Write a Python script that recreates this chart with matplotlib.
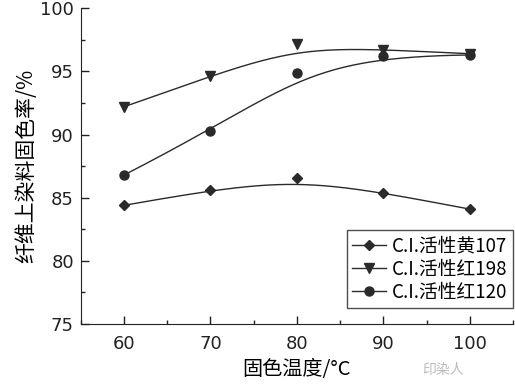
import numpy as np
import matplotlib
matplotlib.use('Agg')
import matplotlib.pyplot as plt
from matplotlib.ticker import MultipleLocator

plt.rcParams['font.family'] = ['DejaVu Sans', 'Noto Sans CJK SC']

## data
temps      = [60, 70, 80, 90, 100]
yellow107  = [84.4, 85.6, 86.6, 85.4, 84.1]
red198     = [92.2, 94.6, 97.2, 96.7, 96.4]
red120     = [86.8, 90.3, 94.9, 96.2, 96.3]
labels     = ['C.I.活性黄107', 'C.I.活性红198', 'C.I.活性红120']
markers    = ['D', 'v', 'o']


def bspline(x, y, n=200):
    ## clamped cubic B-spline through the end points, points used as control points
    P = np.column_stack([x, y]).astype(float)
    k = 3
    m = len(P)
    inner = np.linspace(0, 1, m - k + 1)[1:-1]
    t = np.concatenate([[0] * (k + 1), inner, [1] * (k + 1)])
    u = np.linspace(0, 1, n)
    u[-1] = 1 - 1e-9
    out = []
    for uu in u:
        N = np.array([1.0 if (t[i] <= uu < t[i + 1]) else 0.0 for i in range(len(t) - 1)])
        for d in range(1, k + 1):
            Nn = np.zeros(len(t) - 1 - d)
            for i in range(len(Nn)):
                a = 0.0
                if t[i + d] != t[i]:
                    a = (uu - t[i]) / (t[i + d] - t[i]) * N[i]
                b = 0.0
                if t[i + d + 1] != t[i + 1]:
                    b = (t[i + d + 1] - uu) / (t[i + d + 1] - t[i + 1]) * N[i + 1]
                Nn[i] = a + b
            N = Nn
        out.append(N @ P)
    out = np.array(out)
    return out[:, 0], out[:, 1]


fig = plt.figure(figsize=(5.15, 3.9), dpi=100)
ax = fig.add_axes([0.157, 0.169, 0.839, 0.81])

col = '#2a2a2a'
sizes = {'D': 5, 'v': 7, 'o': 6.5}
handles = []
for ys, mk, lab in zip([yellow107, red198, red120], markers, labels):
    xs, yy = bspline(temps, ys)
    ax.plot(xs, yy, color=col, lw=1.0)
    ax.plot(temps, ys, ls='none', marker=mk, ms=sizes[mk], color=col)
    h, = ax.plot([], [], color=col, lw=1.0, marker=mk, ms=sizes[mk], label=lab)
    handles.append(h)

ax.set_xlim(55, 105)
ax.set_ylim(75, 100)
ax.xaxis.set_major_locator(MultipleLocator(10))
ax.xaxis.set_minor_locator(MultipleLocator(5))
ax.yaxis.set_major_locator(MultipleLocator(5))
ax.yaxis.set_minor_locator(MultipleLocator(2.5))
ax.tick_params(which='both', direction='in', labelsize=13, colors='#222222')
ax.tick_params(which='major', length=6, width=1)
ax.tick_params(which='minor', length=3, width=1)
ax.tick_params(axis='x', pad=8)
ax.tick_params(axis='y', pad=5)
ax.spines['top'].set_visible(False)
ax.spines['right'].set_visible(False)
for s in ['left', 'bottom']:
    ax.spines[s].set_color('#222222')

ax.set_xlabel('固色温度/°C', fontsize=14.5, family=['Noto Sans CJK SC', 'DejaVu Sans'], labelpad=4)
ax.set_ylabel('纤维上染料固色率/%', fontsize=15, family=['Noto Sans CJK SC', 'DejaVu Sans'], labelpad=2)

leg = ax.legend(handles=handles, loc='lower right', bbox_to_anchor=(1.0, 0.05),
                prop={'family': ['Noto Sans CJK SC', 'DejaVu Sans'], 'size': 13.5},
                frameon=True, fancybox=False, edgecolor='#222222',
                handlelength=1.8, handletextpad=0.3, labelspacing=0.1,
                borderpad=0.3, borderaxespad=0.0)
leg.get_frame().set_linewidth(1.0)

fig.text(0.86, 0.04, '印染人', fontsize=10, color='#bbbbbb', ha='center',
         family=['Noto Sans CJK SC', 'DejaVu Sans'])

plt.savefig('out.png', dpi=100)
